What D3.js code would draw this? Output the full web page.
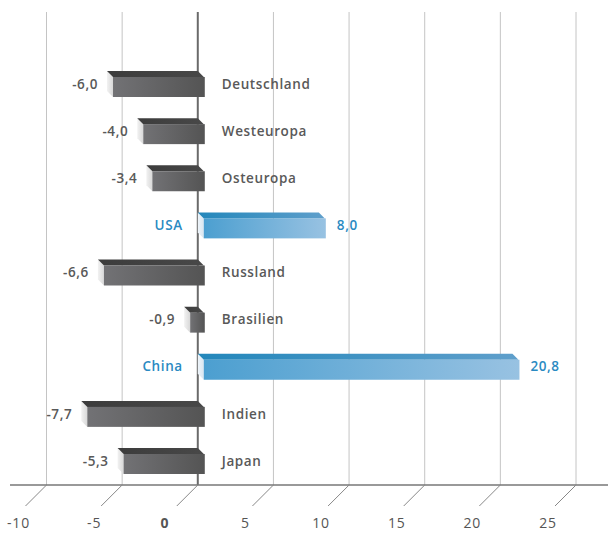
<!DOCTYPE html>
<html><head><meta charset="utf-8">
<script src="https://cdn.jsdelivr.net/npm/d3@7"></script>
<style>html,body{margin:0;padding:0;background:#fff;}svg{display:block;}</style>
</head><body>
<script>
const categories = ["Deutschland","Westeuropa","Osteuropa","USA","Russland","Brasilien","China","Indien","Japan"];
const values = [-6.0,-4.0,-3.4,8.0,-6.6,-0.9,20.8,-7.7,-5.3];
const tickValues = [-10,-5,0,5,10,15,20,25];
const tickLabels = ["-10","-5","0","5","10","15","20","25"];

const W = 608, H = 533;
const svg = d3.select("body").append("svg").attr("width", W).attr("height", H);
const x = d3.scaleLinear().domain([-10,25]).range([46.5,576]);
const y = d3.scalePoint().domain(categories).range([84,461]);
const D = 6, FH = 20; // depth, front height
const fmt = v => d3.format(".1f")(v).replace(".", ",").replace("\u2212", "-");
const FONT = "'Open Sans', sans-serif";

const defs = svg.append("defs");
function grad(id, c1, c2){
  const g = defs.append("linearGradient").attr("id", id).attr("x1","0").attr("x2","1").attr("y1","0").attr("y2","0");
  g.append("stop").attr("offset","0").attr("stop-color",c1);
  g.append("stop").attr("offset","1").attr("stop-color",c2);
}
grad("gFront","#727275","#545454");
grad("gTop","#3c3c3c","#484848");
grad("gSide","#f2f2f2","#d8d8d8");
grad("bFront","#4c9fd0","#98c2e2");
grad("bTop","#2387bb","#5f9fcb");
grad("bSide","#eef4f9","#d9e6f1");

// grid
svg.append("g").selectAll("line").data(tickValues).join("line")
  .attr("x1", d => x(d)).attr("x2", d => x(d))
  .attr("y1", 12).attr("y2", 485)
  .attr("stroke", d => d === 0 ? "#6a6a6a" : "#c4c4c4")
  .attr("stroke-width", d => d === 0 ? 2 : 1);

// axis
svg.append("line").attr("x1",10).attr("x2",608).attr("y1",485).attr("y2",485)
  .attr("stroke","#777").attr("stroke-width",1.3);
svg.append("g").selectAll("line").data(tickValues).join("line")
  .attr("x1", d => x(d)).attr("y1", 485).attr("x2", d => x(d) - 21).attr("y2", 506)
  .attr("stroke","#888").attr("stroke-width",1);
svg.append("g").selectAll("text").data(tickValues).join("text")
  .attr("x", d => x(d) - (d === 0 ? 33 : 28)).attr("y", 523).attr("dy","0.35em")
  .attr("text-anchor","middle")
  .attr("font-family",FONT).attr("font-size",14).attr("letter-spacing", 0.8)
  .attr("font-weight", d => d === 0 ? "bold" : "normal")
  .attr("fill","#555")
  .text((d,i) => tickLabels[i]);

// bars
const bars = svg.append("g").selectAll("g").data(categories).join("g");
bars.each(function(c, i){
  const v = values[i];
  const g = d3.select(this);
  const pos = v > 0;
  const cy = y(c);
  const top = cy - 13;
  const bx0 = Math.min(x(0), x(v)), bx1 = Math.max(x(0), x(v));
  const F = pos ? "b" : "g";
  g.append("path")
    .attr("d", `M${bx0},${top} L${bx0+D},${top+D} L${bx0+D},${top+D+FH} L${bx0},${top+FH} Z`)
    .attr("fill", `url(#${F}Side)`);
  g.append("path")
    .attr("d", `M${bx0},${top} L${bx1},${top} L${bx1+D},${top+D} L${bx0+D},${top+D} Z`)
    .attr("fill", `url(#${F}Top)`);
  g.append("rect").attr("x", bx0 + D).attr("y", top + D).attr("width", bx1 - bx0 + 1).attr("height", FH)
    .attr("fill", `url(#${F}Front)`);
  const col = pos ? "#2a8ac2" : "#595959";
  g.append("text")
    .attr("x", pos ? x(v) + D + 12 : x(v) - 9)
    .attr("y", cy).attr("dy","0.35em")
    .attr("text-anchor", pos ? "start" : "end")
    .attr("font-family",FONT).attr("font-size",13.5).attr("font-weight",600).attr("letter-spacing",0.6)
    .attr("fill", col).text(fmt(v));
  g.append("text")
    .attr("x", pos ? x(0) - 15 : x(0) + 24)
    .attr("y", cy).attr("dy","0.35em")
    .attr("text-anchor", pos ? "end" : "start")
    .attr("font-family",FONT).attr("font-size",13.5).attr("font-weight",600).attr("letter-spacing",0.6)
    .attr("fill", col).text(c);
});
</script>
</body></html>
